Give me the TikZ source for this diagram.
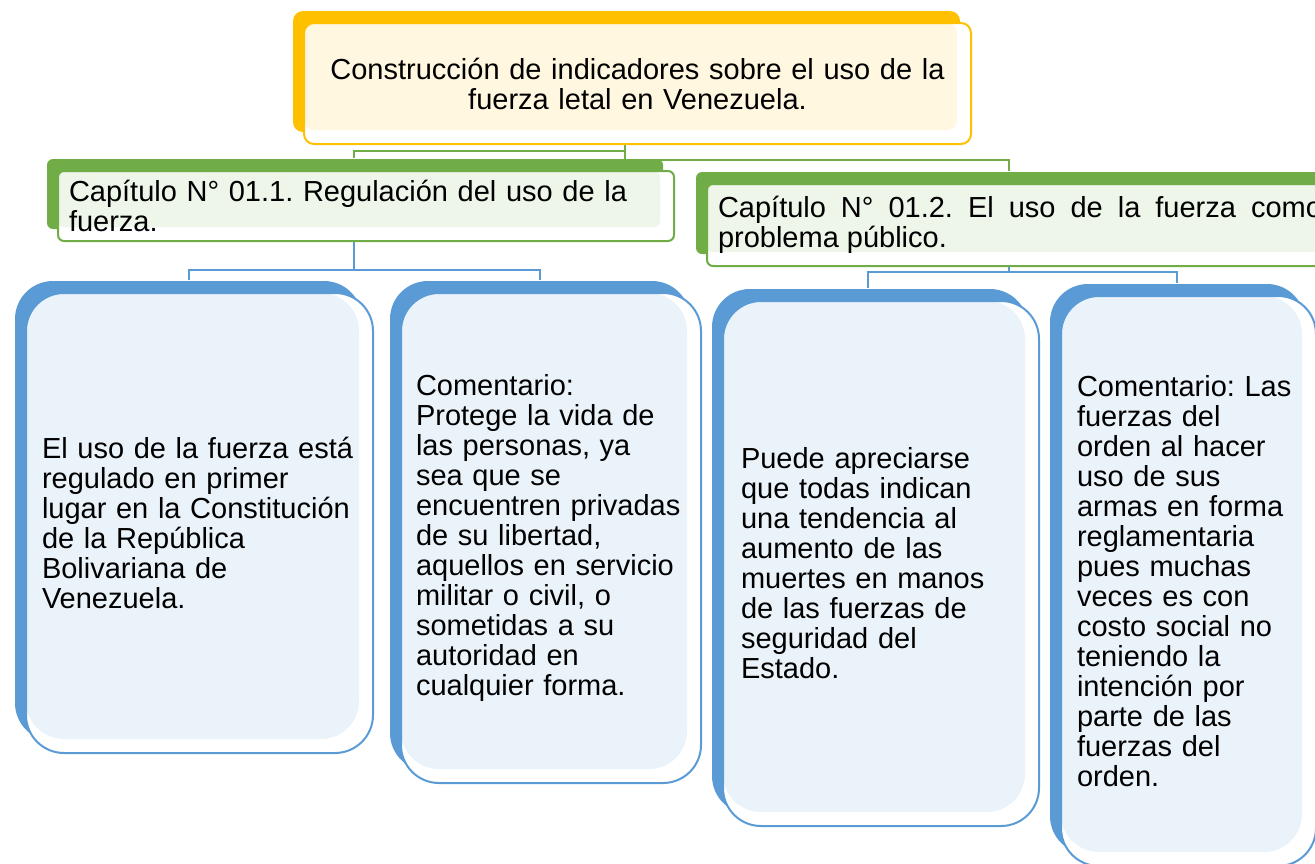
\documentclass[tikz,border=0pt]{standalone}
\usepackage{fontspec}
\setmainfont{Liberation Sans}
\usetikzlibrary{positioning, shadows, backgrounds}

\definecolor{capyellow}{HTML}{FFC000}
\definecolor{capgreen}{HTML}{70AD47}
\definecolor{capblue}{HTML}{5B9BD5}

\begin{document}
\begin{tikzpicture}[
    x=1pt, y=-1pt,
    every node/.style = {font=\fontsize{29}{30}\selectfont\frenchspacing},
    tile/.style 2 args = {rectangle, draw=#1, fill=white, line width=2pt,
                    rounded corners=#2, inner ysep=4pt, anchor=north west,
                    general shadow={fill=#1, shadow xshift=-11pt, shadow yshift=12pt},
                    path picture={\fill[#1!12, rounded corners=#2]
                        (path picture bounding box.north west) rectangle
                        ([shift={(-14pt,14pt)}]path picture bounding box.south east);}},
    titlebox/.style = {tile={capyellow}{10pt}, inner xsep=13pt, align=center},
    chapbox/.style  = {tile={capgreen}{6pt}, inner xsep=11pt},
    notebox/.style  = {tile={capblue}{38pt}, align=left},
    greenlink/.style = {draw=capgreen, line width=2pt},
    bluelink/.style  = {draw=capblue, line width=2pt}
]
\useasboundingbox (0,0) rectangle (1315,863);
\clip (0,0) rectangle (1315,863);

% =====================
% Title
% =====================
\node[titlebox, text width=641pt, minimum height=121pt] (top) at (303,22)
    {Construcción de indicadores sobre el uso de la\\ fuerza letal en Venezuela.};

% =====================
% Chapters
% =====================
\node[chapbox, text width=594pt, minimum height=70pt, align=left] (cap1) at (57,170)
    {Capítulo N° 01.1. Regulación del uso de la\\ fuerza.};
\node[chapbox, text width=604pt, minimum height=82pt, align=justify] (cap2) at (706,183)
    {Capítulo N° 01.2. El uso de la fuerza como\linebreak problema público.};

% =====================
% Notes
% =====================
\node[notebox, inner xsep=16pt, text width=315pt, minimum height=460pt] (n1) at (25,292)
    {El uso de la fuerza está\\ regulado en primer\\ lugar en la Constitución\\ de la República\\ Bolivariana de\\ Venezuela.};
\node[notebox, right=26pt of n1.north east, anchor=north west,
      inner xsep=15pt, text width=270pt, minimum height=490pt] (n2)
    {Comentario:\\ Protege la vida de\\ las personas, ya\\ sea que se\\ encuentren privadas\\ de su libertad,\\ aquellos en servicio\\ militar o civil, o\\ sometidas a su\\ autoridad en\\ cualquier forma.};
\node[notebox, inner xsep=18pt, text width=280pt, minimum height=525pt] (n3) at (722,300)
    {Puede apreciarse\\ que todas indican\\ una tendencia al\\ aumento de las\\ muertes en manos\\ de las fuerzas de\\ seguridad del\\ Estado.};
\node[notebox, right=20pt of n3.north east, anchor=north west, yshift=5pt,
      inner xsep=16pt, text width=223pt, minimum height=570pt] (n4)
    {Comentario: Las\\ fuerzas del\\ orden al hacer\\ uso de sus\\ armas en forma\\ reglamentaria\\ pues muchas\\ veces es con\\ costo social no\\ teniendo la\\ intención por\\ parte de las\\ fuerzas del\\ orden.};

% =====================
% Connections
% =====================
\begin{scope}[on background layer]
\draw[greenlink] ([xshift=-13pt]top.south) -- ++(0,6) -| ([xshift=-12pt,yshift=12pt]cap1.north);
\draw[greenlink] ([xshift=-13pt]top.south) -- ++(0,15) -| ([xshift=-11pt,yshift=12pt]cap2.north);

\draw[bluelink] ([xshift=-12pt]cap1.south) -- ++(0,28) -| ([xshift=-11pt,yshift=12pt]n1.north);
\draw[bluelink] ([xshift=-12pt]cap1.south) -- ++(0,28) -| ([xshift=-11pt,yshift=12pt]n2.north);
\draw[bluelink] ([xshift=-11pt]cap2.south) -- ++(0,5) -| ([xshift=-13pt,yshift=12pt]n3.north);
\draw[bluelink] ([xshift=-11pt]cap2.south) -- ++(0,5) -| ([xshift=-12pt,yshift=12pt]n4.north);
\end{scope}

\end{tikzpicture}
\end{document}
